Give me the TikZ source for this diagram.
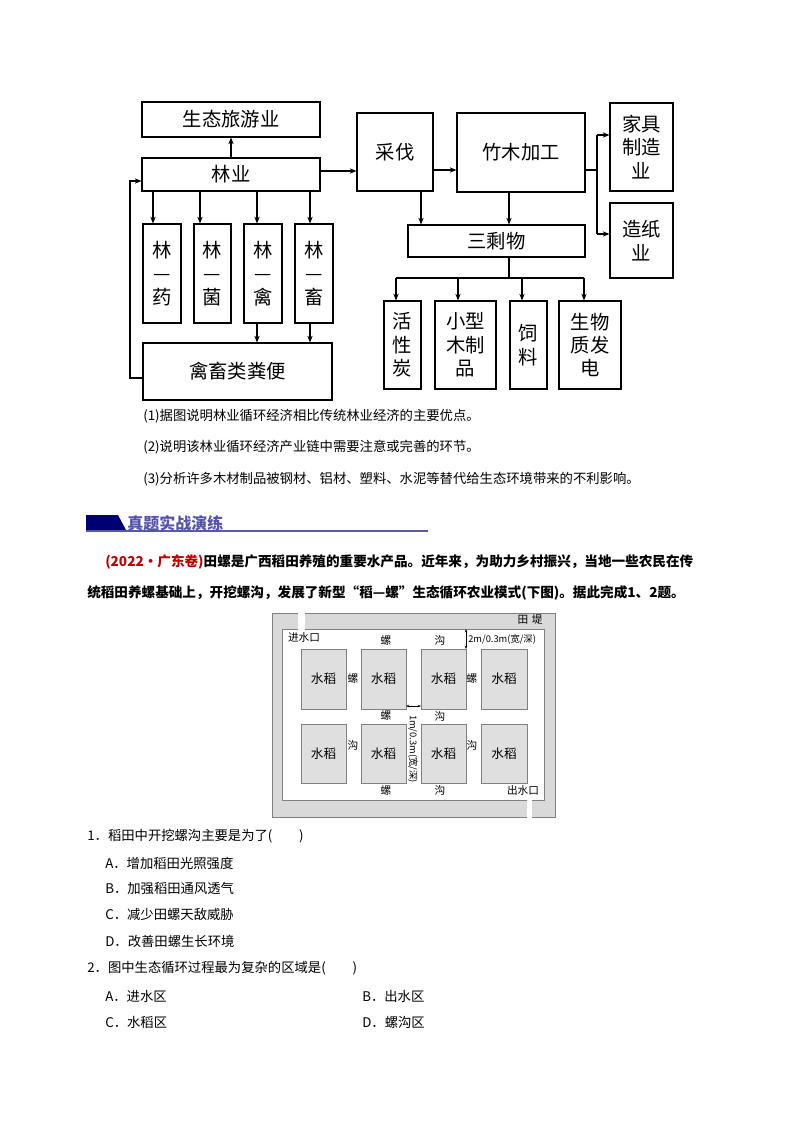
\documentclass[tikz,border=0pt]{standalone}
\usepackage{fontspec}
\setmainfont{Noto Sans CJK SC}
\usetikzlibrary{fit,arrows.meta}
\begin{document}
\begin{tikzpicture}[x=0.75pt,y=-0.75pt,
  box/.style={draw,line width=0.9pt,inner sep=0pt,label={[align=center,inner sep=0pt,font=\fontsize{14.5}{17.5}\selectfont]center:#1}},
  arr/.style={-{Stealth[length=5pt,width=4pt]},line width=0.8pt},
  ln/.style={line width=0.8pt},
  txt/.style={anchor=west,inner sep=0pt,font=\fontsize{10}{12}\selectfont},
  ftxt/.style={inner sep=0pt,font=\fontsize{8}{9}\selectfont},
  rice/.style={draw=gray,fill=gray!25,line width=0.5pt,inner sep=0pt,label={[inner sep=0pt,font=\fontsize{9.5}{10}\selectfont]center:水稻}}]
\useasboundingbox[fill=white] (0,0) rectangle (800,1132);
% top diagram
\node[box=生态旅游业,fit={(142,102)(320,137)}] (lv) {};
\node[box=林业,fit={(142,158)(320,191)}] (ly) {};
\node[box={林\\—\\药},fit={(143,224)(181,323)}] (b1) {};
\node[box={林\\—\\菌},fit={(194,224)(231,323)}] (b2) {};
\node[box={林\\—\\禽},fit={(244,224)(282,323)}] (b3) {};
\node[box={林\\—\\畜},fit={(295,224)(333,323)}] (b4) {};
\node[box=禽畜类粪便,fit={(143,343)(332,400)}] (fb) {};
\node[box=采伐,fit={(357,113)(433,191)}] (cf) {};
\node[box=竹木加工,fit={(457,113)(585,192)}] (zm) {};
\node[box={家具\\制造\\业},fit={(610,103)(673,191)}] (jj) {};
\node[box={造纸\\业},fit={(610,203)(673,278)}] (zz) {};
\node[box=三剩物,fit={(408,225)(585,257)}] (ss) {};
\node[box={活\\性\\炭},fit={(384,301)(421,389)}] (c1) {};
\node[box={小型\\木制\\品},fit={(435,301)(496,389)}] (c2) {};
\node[box={饲\\料},fit={(510,301)(547,389)}] (c3) {};
\node[box={生物\\质发\\电},fit={(559,301)(621,389)}] (c4) {};
\draw[arr] (ly.north) -- (lv.south);
\foreach \b/\x in {b1/153,b2/200,b3/257,b4/310}{\draw[arr] (\x,191) -- (\b.north-|\x,0);}
\draw[arr] (b3.south-|257,0) -- (fb.north-|257,0);
\draw[arr] (b4.south-|310,0) -- (fb.north-|310,0);
\draw[arr] (fb.west|-0,378) -- (130,378) -- (130,181) -- (ly.west|-0,181);
\draw[arr] (ly.east|-0,171) -- (cf.west|-0,171);
\draw[arr] (cf.east|-0,170) -- (zm.west|-0,170);
\draw[ln] (zm.east|-0,170) -- (597,170);
\coordinate (br) at (597,135);
\draw[ln] (597,135) -- (597,234);
\draw[arr] (br) -- (jj.west|-br);
\draw[arr] (597,234) -- (zz.west|-0,234);
\draw[arr] (cf.south-|421,0) -- (ss.north-|421,0);
\draw[arr] (zm.south-|509,0) -- (ss.north-|509,0);
\draw[ln] (ss.south-|509,0) -- (509,278);
\draw[ln] (396,278) -- (584,278);
\foreach \c/\x in {c1/396,c2/458,c3/522,c4/584}{\draw[arr] (\x,278) -- (\c.north-|\x,0);}
% questions
\node[txt] (q1) at (143,416) {(1)据图说明林业循环经济相比传统林业经济的主要优点。};
\node[txt] (q2) at (143,447) {(2)说明该林业循环经济产业链中需要注意或完善的环节。};
\node[txt] (q3) at (143,479) {(3)分析许多木材制品被钢材、铝材、塑料、水泥等替代给生态环境带来的不利影响。};
% banner
\fill[blue!45!black] (86,515) -- (118,515) -- (126,530) -- (86,530) -- cycle;
\draw[blue!30!gray,line width=1.2pt] (86,531) -- (428,531);
\node[anchor=south west,inner sep=0pt,text=blue!35!gray,font=\fontsize{12}{13}\bfseries\selectfont] (bn) at (127,531) {真题实战演练};
% paragraph
\node[txt,font=\fontsize{10.2}{12}\bfseries\selectfont] (p1) at (105,562) {\textcolor{red!75!black}{(2022·广东卷)}田螺是广西稻田养殖的重要水产品。近年来，为助力乡村振兴，当地一些农民在传};
\node[txt,font=\fontsize{10.2}{12}\bfseries\selectfont] (p2) at (87,593) {统稻田养螺基础上，开挖螺沟，发展了新型“稻—螺”生态循环农业模式(下图)。据此完成1、2题。};
% field
\fill[gray!30] (272,613) rectangle (555,817);
\draw[gray,line width=0.6pt] (272,613) rectangle (555,817);
\fill[white] (282,629) rectangle (544,800);
\draw[gray,line width=0.6pt] (282,629) rectangle (544,800);
\fill[white] (298,611) rectangle (305,629.5);
\fill[white] (527,799.5) rectangle (532,819);
\foreach \x/\X in {301/346,361/406,421/466,481/527}{
  \foreach \y/\Y in {649/709,724/783}{
    \node[rice,fit={(\x,\y)(\X,\Y)}] {};}}
\node[ftxt] (jin) at (304,637) {进水口};
\node[ftxt] (td) at (530,620) {田\,\,堤};
\node[ftxt] at (386,640) {螺};
\node[ftxt] at (440,640) {沟};
\node[ftxt,anchor=west,font=\fontsize{7}{8}\selectfont] at (468,639) {2m/0.3m(宽/深)};
\draw[{Stealth[length=2.5pt]}-{Stealth[length=2.5pt]},line width=0.5pt] (466,629) -- (466,649);
\node[ftxt] at (353,678) {螺};
\node[ftxt] at (472,678) {螺};
\node[ftxt] at (386,715) {螺};
\node[ftxt] at (440,716) {沟};
\node[ftxt] at (353,745) {沟};
\node[ftxt] at (472,745) {沟};
\draw[{Stealth[length=2.5pt]}-{Stealth[length=2.5pt]},line width=0.5pt] (406,706) -- (421,706);
\node[ftxt,rotate=-90,font=\fontsize{7}{8}\selectfont] at (413,749) {1m/0.3m(宽/深)};
\node[ftxt] at (386,790) {螺};
\node[ftxt] at (440,790) {沟};
\node[ftxt] (chu) at (523,790) {出水口};
% questions
\node[txt] (t1) at (87,836) {1．稻田中开挖螺沟主要是为了(\qquad)};
\node[txt] (a1) at (105,863) {A．增加稻田光照强度};
\node[txt] (b1t) at (105,888) {B．加强稻田通风透气};
\node[txt] (c1t) at (105,914) {C．减少田螺天敌威胁};
\node[txt] (d1t) at (105,941) {D．改善田螺生长环境};
\node[txt] (t2) at (87,968) {2．图中生态循环过程最为复杂的区域是(\qquad)};
\node[txt] (a2) at (105,996) {A．进水区};
\node[txt] (b2t) at (362,996) {B．出水区};
\node[txt] (c2t) at (105,1022) {C．水稻区};
\node[txt] (d2t) at (362,1022) {D．螺沟区};
\end{tikzpicture}
\end{document}
